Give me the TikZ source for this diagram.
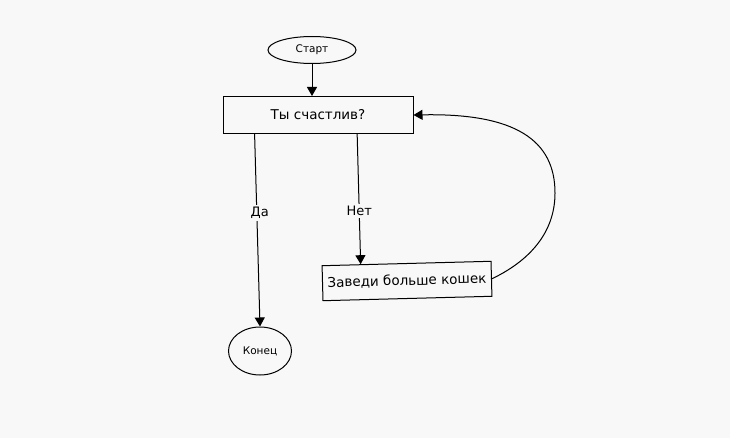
\documentclass[tikz,border=0pt]{standalone}
\usepackage{fontspec}
\setmainfont{DejaVu Sans}
\usetikzlibrary{arrows.meta,shapes.geometric,calc}
\definecolor{bg}{RGB}{248,248,248}
\begin{document}
\begin{tikzpicture}[x=1pt,y=-1pt,
  line width=1pt,
  tip/.style={-{Triangle[length=9pt,width=10pt]}},
  oval/.style={draw,ellipse,inner sep=0pt,font=\fontsize{10.5}{12}\selectfont},
  box/.style={draw,rectangle,inner sep=0pt,font=\fontsize{13.5}{15}\selectfont},
  lbl/.style={fill=bg,inner sep=2pt,font=\fontsize{13}{15}\selectfont}]
\fill[bg] (0,0) rectangle (730,438);
\useasboundingbox (0,0) rectangle (730,438);
\node[oval,minimum width=88pt,minimum height=27pt] (start) at (312,50) {Старт};
\node[box,minimum width=190pt,minimum height=37pt] (q) at (318,115) {Ты счастлив?};
\node[box,minimum width=169pt,minimum height=35pt,rotate=1.5] (cats) at (407,281) {Заведи больше кошек};
\node[oval,minimum width=63pt,minimum height=48pt] (end) at (260,351) {Конец};
\coordinate (qa) at ($(q.south west)!0.168!(q.south east)$);
\coordinate (qb) at ($(q.south west)!0.705!(q.south east)$);
\coordinate (cb) at ($(cats.north west)!0.23!(cats.north east)$);
\coordinate (loopR) at (555,193);
\draw[tip] (start.south) -- (start.south |- q.north);
\draw[tip] (qa) -- node[lbl,pos=0.41,xshift=3pt] {Да} (end.north);
\draw[tip] (qb) -- node[lbl,pos=0.59] {Нет} (cb);
\draw[tip] (cats.east) .. controls (535,258) and (555,228) .. (loopR)
  .. controls (555,140) and (515,113) .. (q.east);
\end{tikzpicture}
\end{document}
